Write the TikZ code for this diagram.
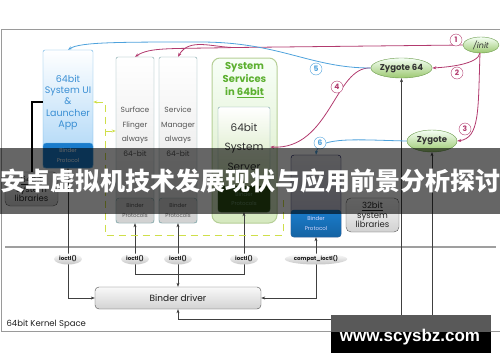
\documentclass[tikz,border=0pt]{standalone}
\usepackage{fontspec}
\setmainfont{Poppins}
\newfontfamily\cjk{Noto Sans CJK SC}
\newfontfamily\wmfont{Liberation Sans}
\usepackage{tikz}
\usetikzlibrary{positioning, arrows.meta, shapes.geometric}
\definecolor{frameGray}{HTML}{9A9A9A}
\definecolor{uiEdge}{HTML}{62AEE2}
\definecolor{uiText}{HTML}{3A8FD4}
\definecolor{uiFill}{HTML}{A6D3F6}
\definecolor{procEdge}{HTML}{7AA3A6}
\definecolor{procText}{HTML}{555555}
\definecolor{svcEdge}{HTML}{B5CF96}
\definecolor{svcText}{HTML}{5CB030}
\definecolor{srvDark}{HTML}{2F5216}
\definecolor{appBlue}{HTML}{1A7CCC}
\definecolor{zygEdge}{HTML}{6A9A4A}
\definecolor{zygFill}{HTML}{9CC870}
\definecolor{redLink}{HTML}{B23A6E}
\definecolor{blueLink}{HTML}{4EA2DC}
\definecolor{dashGreen}{HTML}{CFDF4A}

\begin{document}
\begin{tikzpicture}[
    x=1pt, y=-1pt,
    uibox/.style={draw=uiEdge, top color=white, bottom color=uiFill, rounded corners=2pt, minimum width=50pt, minimum height=118pt},
    procbox/.style={draw=procEdge, top color=white, bottom color=gray!22, rounded corners=2pt, minimum width=38pt, minimum height=166pt},
    bproto/.style={draw=procEdge, fill=gray!35, rounded corners=3pt, minimum width=38pt, minimum height=25pt, align=center, text=procText, font=\fontsize{5.5}{9.5}\selectfont},
    proctext/.style={align=center, text=procText, font=\fontsize{7.5}{14.5}\selectfont},
    libbox/.style={draw=gray!70!black, top color=gray!8, bottom color=gray!35, rounded corners=5pt, minimum width=53pt, minimum height=34pt, align=center, text=gray!30!black, font=\fontsize{8.5}{9.5}\selectfont},
    zygnode/.style={ellipse, draw=zygEdge, top color=green!4!white, bottom color=zygFill, inner sep=0pt, text=black!80, font=\bfseries\fontsize{8.5}{10}\selectfont},
    iolbl/.style={ellipse, top color=white, bottom color=gray!45, inner sep=0pt, minimum height=11pt, text=gray!20!black, font=\bfseries\fontsize{5.5}{6}\selectfont},
    numred/.style={circle, draw=redLink, fill=white, text=redLink, inner sep=0pt, minimum size=12pt, font=\bfseries\fontsize{7.5}{8}\selectfont},
    numblue/.style={circle, draw=blueLink, fill=white, text=blueLink, inner sep=0pt, minimum size=12pt, font=\bfseries\fontsize{7.5}{8}\selectfont},
    arr/.style={->, >={Stealth[length=4pt,width=3pt]}, thin, black!75},
    redc/.style={->, >={Stealth[length=4pt,width=3pt]}, redLink, line width=0.8pt},
    bluec/.style={->, >={Stealth[length=4pt,width=3pt]}, blueLink, line width=0.8pt},
    dashy/.style={dashGreen, line width=1pt, dash pattern=on 7pt off 5pt, >={Stealth[length=4pt,width=3pt]}},
  ]
    \useasboundingbox (0,0) rectangle (500,362);

    % frame and kernel border
    \draw[frameGray, line width=1pt] (500,29.5) -- (1.5,29.5) -- (1.5,331.5) -- (500,331.5);
    \draw[gray!75, line width=2pt] (5,247) -- (496,247);
    \node[anchor=west, text=gray!25!black, font=\fontsize{8.5}{10}\selectfont] (kspace) at (3,324) {64bit Kernel Space};

    % user space processes
    \node[uibox] (ui) at (68,109) {};
    \node[align=center, text=uiText, font=\fontsize{9.5}{11.3}\selectfont] (uilbl) at (68,102.5) {64bit\\System UI\\\&\\Launcher\\App};
    \node[bproto, draw=uiEdge, fill=appBlue, text=white, minimum width=50pt] (uib) at (68,155.5) {Binder\\Protocol};

    \node[procbox] (sf) at (135,140) {};
    \node[proctext] (sflbl) at (135,131.5) {Surface\\Flinger\\always\\64-bit};
    \node[bproto] (sfb) at (135,210.5) {Binder\\Protocols};

    \node[procbox] (sm) at (178,140) {};
    \node[proctext] (smlbl) at (178,131.5) {Service\\Manager\\always\\64-bit};
    \node[bproto] (smb) at (178,210.5) {Binder\\Protocols};

    \node[draw=svcEdge, line width=1pt, top color=green!3!white, bottom color=green!30!olive!25, rounded corners=8pt, minimum width=65pt, minimum height=165pt] (svc) at (244.5,140.5) {};
    \node[align=center, text=svcText, font=\bfseries\fontsize{10}{13}\selectfont] (svclbl) at (244.5,80) {System\\Services\\in \underline{64bit}};
    \node[draw=procEdge, top color=white, bottom color=green!30!olive!40, rounded corners=2pt, minimum width=52pt, minimum height=105pt] (srv) at (244,159.5) {};
    \node[align=center, text=black!80, font=\fontsize{10.5}{19.5}\selectfont, inner sep=1pt] (srvlbl) at (244,147) {64bit\\System\\Server};
    \node[bproto, draw=srvDark, fill=srvDark, text=green!15!gray, minimum width=52pt, minimum height=26pt] (srvb) at (244,199) {Binder\\Protocols};

    \node[draw=blue!30!black, top color=blue!8!gray!20, bottom color=blue!20!gray!45, rounded corners=3pt, minimum width=50pt, minimum height=82pt] (app) at (316,196) {};
    \node[bproto, draw=appBlue!80!black, top color=appBlue, bottom color=appBlue!80!black, text=white!85!blue, minimum width=50pt, minimum height=27pt] (appb) at (316,223.5) {Binder\\Protocol};

    \node[libbox] (lib64) at (31.5,189) {\underline{64bit}\\system\\libraries};
    \node[libbox] (lib32) at (372.5,215) {\underline{32bit}\\system\\libraries};

    % daemons
    \node[zygnode, font=\itshape\fontsize{8}{10}\selectfont, minimum width=36pt, minimum height=16pt] (init) at (481,45) {/init};
    \node[zygnode, minimum width=53pt, minimum height=20pt] (zyg64) at (401.5,68) {Zygote 64};
    \node[zygnode, minimum width=50pt, minimum height=22pt] (zyg) at (432,141) {Zygote};

    % kernel
    \node[draw=gray!60!black, top color=gray!5, bottom color=gray!35, rounded corners=4pt, minimum width=166pt, minimum height=22pt, text=gray!20!black, font=\fontsize{9}{10}\selectfont] (driver) at (178,298) {Binder driver};

    % binder links
    \coordinate (mj) at (178,274);
    \coordinate (kj) at (432,319);
    \draw[black, line width=1.6pt] (ui.west |- 0,102) -- (32,102) -- (lib64.north -| 32,0);
    \draw[arr, <->] (uib.south) |- (driver.west);
    \draw[arr] (mj) -| (sfb.south);
    \draw[arr] (mj) -| (srvb.south);
    \draw[arr] (mj) -- (smb.south);
    \draw[arr] (mj) -- (driver.north);
    \draw[arr, <->] (appb.south) |- (driver.east);
    \draw[arr] (kj) -- (zyg.south);
    \draw[arr] (kj) -| (driver.south);
    \draw[arr] (zyg64.south |- kj) -- (zyg64.south);

    \foreach \nm/\xx in {io1/68, io2/135, io3/178, io4/244}
      \node[iolbl, minimum width=28pt] (\nm) at (\xx,259) {ioctl()};
    \node[iolbl, minimum width=62pt] (io5) at (316,259) {compat\_ioctl()};

    % dashed 64bit group
    \coordinate (dtop) at (105,102);
    \coordinate (dmid) at (105,131);
    \draw[dashy, <-] (ui.east |- dtop) -- (dtop) -- (105,235) -- (283,235) -- (283,200);
    \draw[dashy, ->] (dmid) -- (sf.west |- dmid);

    % startup sequence
    \coordinate (r1) at (235,47.5);
    \coordinate (ib) at (480,53);
    \draw[redLink, line width=0.8pt] (init.west) -- (r1);
    \draw[redc] (r1) to[out=180, in=60] (sm.north);
    \draw[redc] (r1) .. controls (170,49) and (150,47) .. (sf.north);
    \draw[redc] (ib) .. controls (478,64) and (450,67) .. (zyg64.east);
    \draw[redc] (ib) .. controls (478,110) and (480,138) .. (zyg.east);
    \draw[redc] (zyg64.west) .. controls (335,66) and (330,150) .. (srv.east |- 0,147);
    \draw[bluec] (zyg64.west) .. controls (310,68) and (280,42) .. (200,42) .. controls (120,42) and (80,42) .. (ui.north);
    \draw[bluec] (zyg.west) .. controls (360,140) and (318,136) .. (app.north);

    \node[numred] (n1) at (456,40) {1};
    \node[numred] (n2) at (457,73) {2};
    \node[numred] (n3) at (465,129) {3};
    \node[numred] (n4) at (337,87) {4};
    \node[numblue] (n5) at (316,69) {5};
    \node[numblue] (n6) at (320,143) {6};

    % overlay banner and watermark
    \fill[black, opacity=0.6] (0,148) rectangle (500,214);
    \node[text=white, font=\cjk\bfseries\fontsize{25}{26}\selectfont, inner sep=0pt] (banner) at (250,181) {安卓虚拟机技术发展现状与应用前景分析探讨};
    \fill[black!65] (331,315) rectangle (491,331.5);
    \fill[black] (331,331.5) rectangle (491,353);
    \node[text=white, font=\wmfont\bfseries\fontsize{17}{18}\selectfont, inner sep=0pt] (wm) at (410,337) {www.scysbz.com};
  \end{tikzpicture}
\end{document}
